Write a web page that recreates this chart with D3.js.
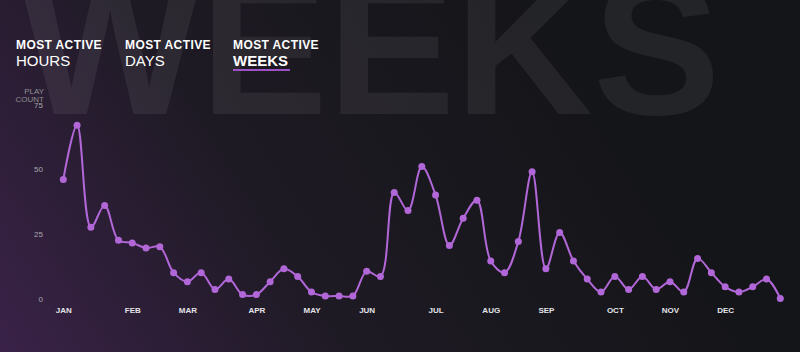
<!DOCTYPE html>
<html>
<head>
<meta charset="utf-8">
<script src="https://cdn.jsdelivr.net/npm/d3@7"></script>
<style>
  html, body { margin: 0; padding: 0; background: #141518; }
  svg { display: block; }
</style>
</head>
<body>
<svg id="chart" width="800" height="352"></svg>
<script>
// ---- data ----
const weeks = d3.range(1, 54); // week numbers 1..53
const playCounts = [46, 67, 27.5, 36, 22.5, 21.5, 19.5, 20, 10, 6.5,
  10, 3.5, 7.5, 1.5, 1.5, 6.5, 11.5, 8.5, 2.5, 1,
  1, 1, 10.5, 8.5, 41, 34, 51, 40, 20.5, 31,
  38, 14.5, 10, 22, 49, 11.5, 25.5, 14.5, 7.5, 2.5,
  8.5, 3.5, 8.5, 3.5, 6.5, 2.5, 15.5, 10, 4.5, 2.5,
  4.5, 7.5, 0];
const monthLabels = ["JAN","FEB","MAR","APR","MAY","JUN","JUL","AUG","SEP","OCT","NOV","DEC"];
const monthWeeks = [1, 6, 10, 15, 19, 23, 28, 32, 36, 41, 45, 49];
const yTicks = [0, 25, 50, 75];
const tabTitles = ["MOST ACTIVE", "MOST ACTIVE", "MOST ACTIVE"];
const tabNames = ["HOURS", "DAYS", "WEEKS"];
const activeTab = 2;

const svg = d3.select("#chart");
const W = 800, H = 352;
const font = "'Liberation Sans', Arial, Helvetica, sans-serif";

// ---- background ----
const defs = svg.append("defs");
const bg = defs.append("linearGradient").attr("id", "bg")
  .attr("gradientUnits", "userSpaceOnUse")
  .attr("x1", 0).attr("y1", 352).attr("x2", 560).attr("y2", 0);
bg.append("stop").attr("offset", 0).attr("stop-color", "#3a2248");
bg.append("stop").attr("offset", 0.45).attr("stop-color", "#1e1a24");
bg.append("stop").attr("offset", 1).attr("stop-color", "#141518");
svg.append("rect").attr("width", W).attr("height", H).attr("fill", "url(#bg)");

// watermark
svg.append("text")
  .attr("x", 20).attr("y", 114)
  .attr("font-family", font)
  .attr("font-size", 191)
  .attr("font-weight", "bold")
  .attr("fill", "#ffffff").attr("fill-opacity", 0.065)
  .text(tabNames[activeTab]);

// ---- tabs ----
const tabX = [16, 125, 233];
const tabs = svg.append("g");
tabNames.forEach((name, i) => {
  const g = tabs.append("g").attr("transform", `translate(${tabX[i]},0)`);
  g.append("text").attr("x", 0).attr("y", 49)
    .attr("font-family", font).attr("font-size", 12).attr("font-weight", "bold")
    .attr("letter-spacing", 0.4)
    .attr("fill", "#ffffff").text(tabTitles[i]);
  g.append("text").attr("x", 0).attr("y", 66)
    .attr("font-family", font).attr("font-size", 15)
    .attr("font-weight", i === activeTab ? "bold" : "normal")
    .attr("fill", "#ffffff").text(name);
  if (i === activeTab) {
    g.append("rect").attr("x", 0).attr("y", 69).attr("width", 57).attr("height", 2)
      .attr("fill", "#9c52c4");
  }
});

// ---- scales ----
const x = d3.scaleLinear().domain([1, 53]).range([63.3, 780.3]);
const y = d3.scaleLinear().domain([0, 75]).range([298.5, 104.5]);

// axis title
const yt = svg.append("text").attr("text-anchor", "end")
  .attr("font-family", font).attr("font-size", 8).attr("fill", "#8e8e92");
yt.append("tspan").attr("x", 44).attr("y", 94).text("PLAY");
yt.append("tspan").attr("x", 44).attr("y", 102).text("COUNT");

// y axis
const yAxis = svg.append("g").attr("transform", "translate(43,0)")
  .call(d3.axisLeft(y).tickValues(yTicks).tickSize(0).tickPadding(0));
yAxis.select(".domain").remove();
yAxis.selectAll("text").attr("font-family", font).attr("font-size", 8)
  .attr("fill", "#a9a9ad");

// x axis
const xAxis = svg.append("g").attr("transform", "translate(0,307)")
  .call(d3.axisBottom(x).tickValues(monthWeeks)
    .tickFormat((d, i) => monthLabels[i]).tickSize(0).tickPadding(0));
xAxis.select(".domain").remove();
xAxis.selectAll("text").attr("font-family", font).attr("font-size", 8)
  .attr("font-weight", "bold").attr("fill", "#e4e4e8");

// ---- line + dots ----
const color = "#b267d8";
const line = d3.line()
  .x((d, i) => x(weeks[i]))
  .y(d => y(d))
  .curve(d3.curveCatmullRom.alpha(0.5));
svg.append("path").datum(playCounts)
  .attr("d", line).attr("fill", "none")
  .attr("stroke", color).attr("stroke-width", 2);
svg.append("g").selectAll("circle").data(playCounts).join("circle")
  .attr("cx", (d, i) => x(weeks[i]))
  .attr("cy", d => y(d))
  .attr("r", 3.5)
  .attr("fill", color);
</script>
</body>
</html>
